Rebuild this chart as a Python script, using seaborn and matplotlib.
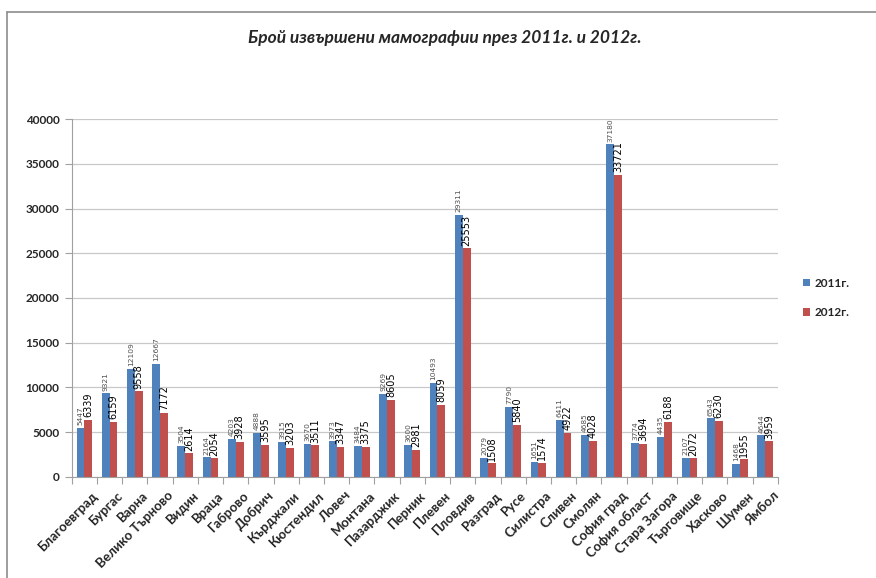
import matplotlib
matplotlib.use("Agg")
import matplotlib.pyplot as plt
from matplotlib.lines import Line2D
from matplotlib.transforms import ScaledTranslation
import numpy as np
import pandas as pd
import seaborn as sns

regions = ["Благоевград", "Бургас", "Варна", "Велико Търново", "Видин", "Враца",
           "Габрово", "Добрич", "Кърджали", "Кюстендил", "Ловеч", "Монтана",
           "Пазарджик", "Перник", "Плевен", "Пловдив", "Разград", "Русе",
           "Силистра", "Сливен", "Смолян", "София град", "София област",
           "Стара Загора", "Търговище", "Хасково", "Шумен", "Ямбол"]
values_2011 = [5447, 9321, 12109, 12667, 3504, 2164, 4203, 4888, 3915, 3670,
               3973, 3484, 9269, 3600, 10493, 29311, 2079, 7790, 1651, 6411,
               4685, 37180, 3774, 4435, 2107, 6543, 1468, 4644]
values_2012 = [6339, 6159, 9558, 7172, 2614, 2054, 3928, 3595, 3203, 3511,
               3347, 3375, 8605, 2981, 8059, 25553, 1508, 5840, 1574, 4922,
               4028, 33721, 3694, 6188, 2072, 6230, 1955, 3959]
series = ["2011г.", "2012г."]
y_ticks = [0, 5000, 10000, 15000, 20000, 25000, 30000, 35000, 40000]
title = "Брой извършени мамографии през 2011г. и 2012г."

df = pd.DataFrame({
    "region": regions * 2,
    "year": [series[0]] * len(regions) + [series[1]] * len(regions),
    "count": values_2011 + values_2012,
})

sns.set_theme(style="white")
plt.rcParams["font.family"] = ["Lato", "DejaVu Sans"]

fig = plt.figure(figsize=(8.76, 5.78), dpi=100)
ax = fig.add_axes([0.082, 0.175, 0.806, 0.619])

palette = {series[0]: "#4F81BD", series[1]: "#C0504D"}
sns.barplot(data=df, x="region", y="count", hue="year", order=regions,
            hue_order=series, palette=palette, width=0.62, gap=0,
            saturation=1, edgecolor="none", ax=ax, errorbar=None)

# value labels on top of the bars
label_styles = [dict(fontsize=5.4, color="#505050", family="DejaVu Sans"),
                dict(fontsize=7.0, color="#000000", family="DejaVu Sans")]
for cont, vals, st in zip(ax.containers, [values_2011, values_2012], label_styles):
    ax.bar_label(cont, labels=[str(v) for v in vals], rotation=90,
                 padding=2, **st)

ax.set_ylim(0, 40000)
ax.set_xlim(-0.5, len(regions) - 0.5)
ax.set_yticks(y_ticks)
ax.set_yticklabels([str(t) for t in y_ticks], fontsize=8.5, fontweight="bold")
ax.yaxis.grid(True, color="#c8c8c8", linewidth=0.9)
ax.set_axisbelow(True)

ax.set_xticks(range(len(regions)))
ax.set_xticklabels(regions, rotation=45, ha="right", rotation_mode="anchor",
                   fontsize=9.5, fontweight="bold")
ax.set_xticks(np.arange(-0.5, len(regions), 1.0), minor=True)
ax.tick_params(axis="x", which="major", length=0, pad=9)
ax.tick_params(axis="x", which="minor", length=5, color="#a0a0a0", width=0.8,
               bottom=True)
ax.tick_params(axis="y", which="major", length=5, color="#a0a0a0", width=0.8,
               left=True, pad=4)
shift = ScaledTranslation(7 / 100, 0, fig.dpi_scale_trans)
for lbl in ax.get_xticklabels():
    lbl.set_transform(lbl.get_transform() + shift)

ax.set_xlabel("")
ax.set_ylabel("")
for side in ["top", "right"]:
    ax.spines[side].set_visible(False)
for side in ["left", "bottom"]:
    ax.spines[side].set_color("#a0a0a0")
    ax.spines[side].set_linewidth(0.8)

leg = ax.legend(loc="center left", bbox_to_anchor=(1.02, 0.5), frameon=False,
                handlelength=0.6, handleheight=0.6, handletextpad=0.4,
                labelspacing=1.6, prop={"size": 8.5, "weight": "bold"})

fig.text(0.508, 0.934, title, ha="center", va="center", fontsize=12.5,
         fontweight="bold", fontstyle="italic")

# outer frame of the chart area
fig.add_artist(Line2D([7 / 876, 7 / 876], [0, 1 - 12 / 578],
                      transform=fig.transFigure, color="#8c8c8c", linewidth=1.2))
fig.add_artist(Line2D([7 / 876, 1], [1 - 12 / 578, 1 - 12 / 578],
                      transform=fig.transFigure, color="#8c8c8c", linewidth=1.2))

fig.savefig("out.png", dpi=100, facecolor="white")
